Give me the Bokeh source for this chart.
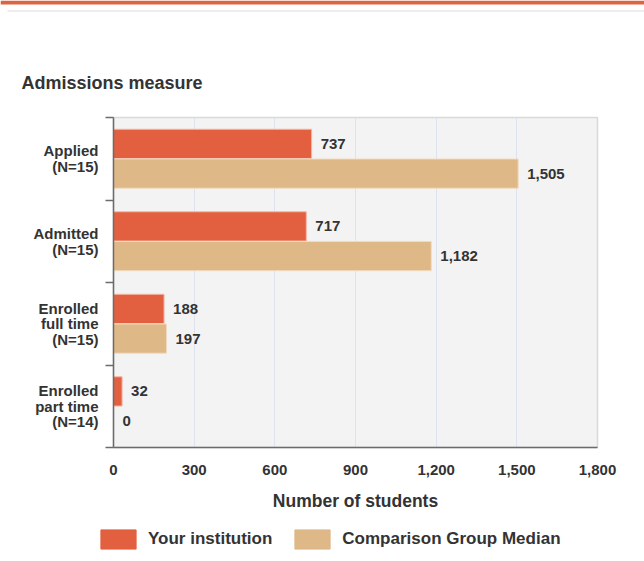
import numpy as np
from bokeh.plotting import figure
from bokeh.layouts import column
from bokeh.models import (Range1d, FixedTicker, NumeralTickFormatter, ColumnDataSource,
                          Label, Legend, LegendItem, BoxAnnotation)
from bokeh.core.properties import value
from bokeh.embed import file_html
from bokeh.resources import INLINE

# ---- data ----
categories = ["Applied\n(N=15)", "Admitted\n(N=15)",
              "Enrolled\nfull time\n(N=15)", "Enrolled\npart time\n(N=14)"]
your_institution = [737, 717, 188, 32]
comparison_median = [1505, 1182, 197, 0]
x_ticks = [0, 300, 600, 900, 1200, 1500, 1800]
series_names = ["Your institution", "Comparison Group Median"]
chart_title = "Admissions measure"
x_title = "Number of students"

FONT = "Liberation Sans"
ORANGE = "#e2603f"
TAN = "#dfb887"
TEXT = "#333333"
AXIS = "#6b6b6b"

W, H = 644, 561
HEAD, FOOT = 100, 39                 # header / footer strip heights
FL, FR, FT, FB = 113, 597, 117, 447  # frame edges in page pixels


def strip(height, top):
    f = figure(width=W, height=height, output_backend="svg", toolbar_location=None,
               y_range=Range1d(top + height, top),
               x_axis_location=None, y_axis_location=None, min_border=0)
    if "frame_align" in f.properties():
        f.frame_align = False
        f.x_range = Range1d(0, W)
    else:
        f.x_range = Range1d(FL, FR)
    f.outline_line_color = None
    f.background_fill_color = "white"
    f.border_fill_color = "white"
    f.grid.visible = False
    return f


# ---- header: accent band + title ----
head = strip(HEAD, 0)
head.add_layout(BoxAnnotation(left=0, right=W, top=0, bottom=4,
                              fill_color="#dc6443", fill_alpha=1, line_color=None))
head.add_layout(BoxAnnotation(left=7, right=W + 10, top=10, bottom=11,
                              fill_color="#dcdcdc", fill_alpha=1, line_color=None))
head.add_layout(Label(x=21, y=82, text=chart_title, text_font=FONT,
                      text_font_style="bold", text_font_size="18px",
                      text_color=TEXT, text_baseline="middle"))

# ---- main chart ----
n = len(categories)
centers = [n - 0.5 - i for i in range(n)]          # first category on top
OFF = 0.18
src = ColumnDataSource(dict(
    y_you=[c + OFF for c in centers], y_comp=[c - OFF for c in centers],
    you=your_institution, comp=comparison_median,
    you_lbl=[f"{v:,}" for v in your_institution],
    comp_lbl=[f"{v:,}" for v in comparison_median]))

PH = H - HEAD - FOOT
p = figure(width=W, height=PH, output_backend="svg", toolbar_location=None,
           y_range=Range1d(0, n), x_range=Range1d(x_ticks[0], x_ticks[-1]),
           min_border_left=FL, min_border_right=W - FR,
           min_border_top=FT - HEAD, min_border_bottom=PH - (FB - HEAD))
p.background_fill_color = "#f3f3f3"
p.border_fill_color = "white"
p.outline_line_color = "#d9d9d9"
p.outline_line_width = 1.5

bh = 0.355
p.hbar(y="y_you", left=0, right="you", height=bh, source=src,
       fill_color=ORANGE, line_color="#f6b7a6", line_width=1)
p.hbar(y="y_comp", left=0, right="comp", height=bh, source=src,
       fill_color=TAN, line_color="#f1dcc0", line_width=1)

for col in ("you", "comp"):
    p.text(x=col, y="y_" + col, text=col + "_lbl", source=src,
           x_offset=9, text_baseline="middle", text_align="left",
           text_font=value(FONT), text_font_style="bold", text_font_size="15px",
           text_color=TEXT)

xa = p.xaxis[0]
xa.ticker = FixedTicker(ticks=x_ticks)
xa.formatter = NumeralTickFormatter(format="0,0")
xa.major_tick_out = 0
xa.major_tick_in = 0
xa.minor_tick_line_color = None
xa.axis_line_color = AXIS
xa.axis_line_width = 1.5
xa.major_label_standoff = 17
xa.major_label_text_font = FONT
xa.major_label_text_font_style = "bold"
xa.major_label_text_font_size = "15px"
xa.major_label_text_color = TEXT
xa.axis_label = x_title
xa.axis_label_standoff = 13
xa.axis_label_text_font = FONT
xa.axis_label_text_font_style = "bold"
xa.axis_label_text_font_size = "17.5px"
xa.axis_label_text_color = TEXT

p.xgrid.grid_line_color = "#dce3ef"
p.xgrid.grid_line_width = 1
p.ygrid.visible = False

ya = p.yaxis[0]
ya.ticker = FixedTicker(ticks=centers, minor_ticks=list(range(n + 1)))
ya.major_label_overrides = {c: lab for c, lab in zip(centers, categories)}
ya.major_tick_out = 0
ya.major_tick_in = 0
ya.minor_tick_out = 8
ya.minor_tick_in = 0
ya.minor_tick_line_color = AXIS
ya.minor_tick_line_width = 1.5
ya.axis_line_color = AXIS
ya.axis_line_width = 1.5
ya.major_label_standoff = 7
ya.major_label_text_font = FONT
ya.major_label_text_font_style = "bold"
ya.major_label_text_font_size = "15px"
ya.major_label_text_line_height = 0.92
ya.major_label_text_color = TEXT

# ---- footer: legend (swatch proxies carry no drawable point) ----
foot = strip(FOOT, H - FOOT)
proxy = ColumnDataSource(dict(y=np.array([np.nan]), l=np.array([np.nan]),
                              r=np.array([np.nan])))
sw1 = foot.hbar(y="y", left="l", right="r", height=1, source=proxy,
                fill_color=ORANGE, line_color=ORANGE)
sw2 = foot.hbar(y="y", left="l", right="r", height=1, source=proxy,
                fill_color=TAN, line_color=TAN)
legend = Legend(items=[LegendItem(label=series_names[0], renderers=[sw1]),
                       LegendItem(label=series_names[1], renderers=[sw2])],
                orientation="horizontal",
                location=(96 if "frame_align" in foot.properties() else 0, 10),
                glyph_width=44, glyph_height=24, label_standoff=8, spacing=18,
                padding=0, margin=0, border_line_color=None, background_fill_alpha=0,
                label_text_font=FONT, label_text_font_style="bold",
                label_text_font_size="17px", label_text_color=TEXT)
foot.add_layout(legend, "center")

layout = column(head, p, foot, spacing=0)
open("out.html", "w").write(file_html(layout, INLINE))
